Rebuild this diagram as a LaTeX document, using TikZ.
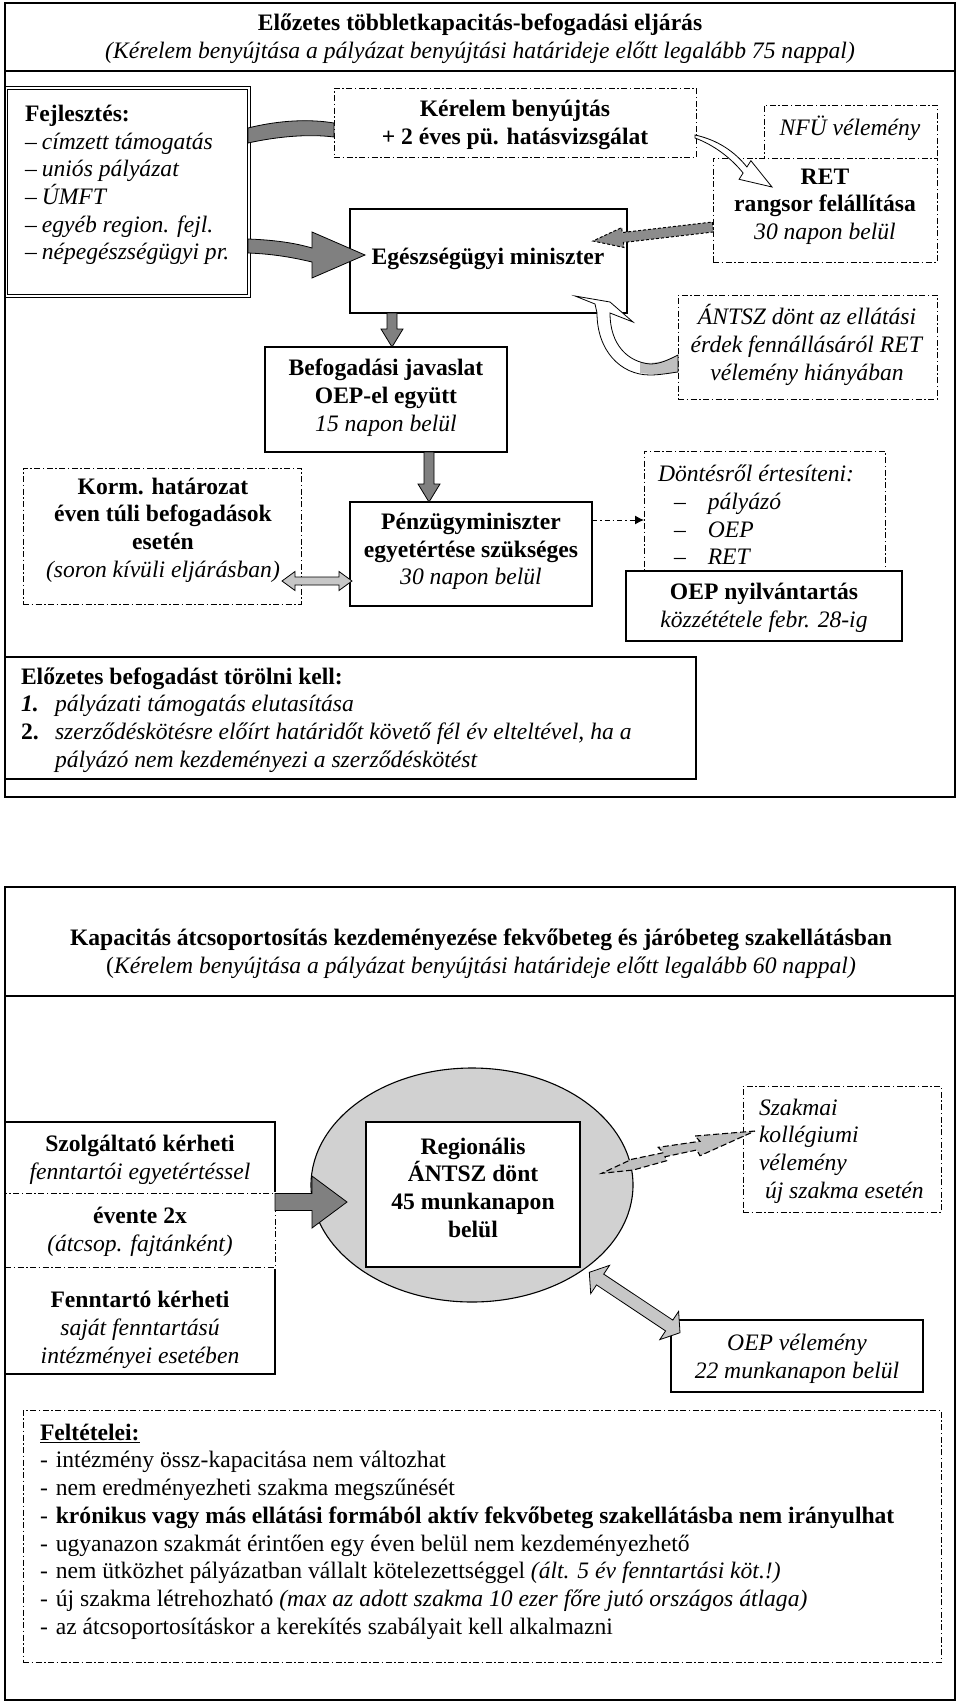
\documentclass[tikz,border=0pt]{standalone}
\usepackage{fontspec}
\setmainfont{Liberation Serif}
\usetikzlibrary{calc,shapes.geometric,arrows.meta}
\newcommand\blkarrow[6]{%
  \coordinate (ba-c) at ($(#3)!#6!(#2)$);
  \path[#1] ($(#2)!#4!90:(#3)$) -- ($(ba-c)!#4!90:(#3)$) -- ($(ba-c)!#5!90:(#3)$) -- (#3) -- ($(ba-c)!#5!-90:(#3)$) -- ($(ba-c)!#4!-90:(#3)$) -- ($(#2)!#4!-90:(#3)$) -- cycle;}
\newcommand\blkdarrow[6]{%
  \coordinate (bd-a) at ($(#2)!#6!(#3)$);
  \coordinate (bd-b) at ($(#3)!#6!(#2)$);
  \path[#1] (#2) -- ($(bd-a)!#5!90:(#3)$) -- ($(bd-a)!#4!90:(#3)$) -- ($(bd-b)!#4!90:(#3)$) -- ($(bd-b)!#5!90:(#3)$) -- (#3) -- ($(bd-b)!#5!-90:(#3)$) -- ($(bd-b)!#4!-90:(#3)$) -- ($(bd-a)!#4!-90:(#3)$) -- ($(bd-a)!#5!-90:(#3)$) -- cycle;}
\begin{document}
\begin{tikzpicture}[x=1pt,y=-1pt,
  every node/.style={font=\fontsize{23.6pt}{27.7pt}\selectfont, inner sep=0pt, outer sep=0pt},
  outerbox/.style={draw, line width=1.6pt, anchor=north west},
  solidbox/.style={draw, line width=1.1pt, fill=white, anchor=north west},
  ddbox/.style={draw, line width=1pt, dash pattern=on 6pt off 2.5pt on 1.5pt off 2.5pt, fill=white, anchor=north west},
  txt/.style={align=center},
  ltxt/.style={align=left, anchor=west},
  darkarr/.style={draw, line width=0.8pt, fill=black!50},
  lightarr/.style={draw, line width=0.8pt, fill=black!22},
  dotarr/.style={draw, line width=1pt, dash pattern=on 3pt off 2pt, fill=black!45},
  whitearr/.style={draw, line width=0.8pt, fill=white},
  boltarr/.style={draw, line width=1.1pt, dash pattern=on 6pt off 3pt, fill=black!25}
]
\useasboundingbox (0,0) rectangle (960,1702);
\fill[white] (0,0) rectangle (960,1702);

% ================= TOP PART =================
\node[solidbox, double, double distance=2pt, line width=0.9pt, minimum width=243pt, minimum height=208pt] (fejl) at (6,88) {};
\node[ddbox, minimum width=362pt, minimum height=69pt] (kerelem) at (334,88) {};
\node[solidbox, minimum width=277pt, minimum height=104pt] (eum) at (350,209) {};
\node[ddbox, minimum width=173pt, minimum height=53pt] (nfu) at (764,105) {};
\node[ddbox, minimum width=224pt, minimum height=104pt] (ret) at (713,158) {};
\node[ddbox, minimum width=259pt, minimum height=104pt] (antsz) at (678,295) {};
\node[solidbox, minimum width=242pt, minimum height=105pt] (befog) at (265,347) {};
\node[ddbox, minimum width=278pt, minimum height=136pt] (korm) at (23,468) {};
\node[solidbox, minimum width=242pt, minimum height=104pt] (penz) at (350,502) {};
\node[ddbox, minimum width=241pt, minimum height=121pt] (dont) at (644,451) {};
\node[solidbox, minimum width=276pt, minimum height=70pt] (oepny) at (626,571) {};
\node[solidbox, minimum width=691pt, minimum height=122pt] (torol) at (5,657) {};

% arrows (top)
\draw[darkarr] (248,128) .. controls (280,120) and (310,119) .. (334,123) -- (334,137) .. controls (310,134) and (280,136) .. (248,143) -- cycle;
\draw[darkarr] (248,239) .. controls (275,240) and (295,243) .. (312,248) -- (312,232) -- (365,255) -- (312,278) -- (312,262) .. controls (295,258) and (275,254) .. (248,253) -- cycle;
\draw[whitearr] (695,135) .. controls (718,140) and (735,152) .. (746.9,167) -- (750.9,160.7) -- (772,187) -- (739.1,179.3) -- (743.1,173) .. controls (731,158) and (714,145) .. (695,138) -- cycle;
\coordinate (g1s) at (713,227);
\coordinate (g1e) at (593,241);
\blkarrow{dotarr}{g1s}{g1e}{5pt}{10pt}{30pt}
% curly arrow from ANTSZ
\fill[white] (575,296) -- (595,304) -- (597,313) .. controls (597,350) and (620,375) .. (650,375) .. controls (660,375) and (670,373) .. (678,372) -- (678,355) .. controls (668,360) and (660,364) .. (650,364) .. controls (628,362) and (610,345) .. (610,313) -- (633,322) -- (610,302) -- cycle;
\fill[black!25] (640,373) .. controls (655,375) and (668,374) .. (678,372) -- (678,355) .. controls (668,360) and (655,365) .. (640,362) -- cycle;
\draw[line width=0.8pt] (575,296) -- (595,304) -- (597,313) .. controls (597,350) and (620,375) .. (650,375) .. controls (660,375) and (670,373) .. (678,372) -- (678,355) .. controls (668,360) and (660,364) .. (650,364) .. controls (628,362) and (610,345) .. (610,313) -- (633,322) -- (610,302) -- cycle;
\coordinate (d1s) at (392,313);
\coordinate (d1e) at (392,347);
\blkarrow{darkarr}{d1s}{d1e}{5pt}{11pt}{18pt}
\coordinate (d2s) at (429,452);
\coordinate (d2e) at (429,502);
\blkarrow{darkarr}{d2s}{d2e}{5pt}{11pt}{18pt}
\coordinate (k1) at (282,581);
\coordinate (k2) at (352,581);
\blkdarrow{lightarr}{k1}{k2}{4pt}{9.5pt}{13pt}
\coordinate (p1) at (592,520);
\coordinate (p2) at (644,520);
\draw[line width=1pt, dash pattern=on 5pt off 3pt on 1.5pt off 3pt, -{Latex[length=9pt,width=9pt]}] (p1) -- (p2);

% texts (top)
\node[txt] (t-head1) at (480,39) {\textbf{Előzetes többletkapacitás-befogadási eljárás}\\\textit{(Kérelem benyújtása a pályázat benyújtási határideje előtt legalább 75 nappal)}};
\node[ltxt] (t-fejl) at (25,185) {\textbf{Fejlesztés:}\\
–\hspace{5pt}\textit{címzett támogatás}\\
–\hspace{5pt}\textit{uniós pályázat}\\
–\hspace{5pt}\textit{ÚMFT}\\
–\hspace{5pt}\textit{egyéb region. fejl.}\\
–\hspace{5pt}\textit{népegészségügyi pr.}};
\node[txt] (t-kerelem) at (515,125) {\textbf{Kérelem benyújtás}\\\textbf{+ 2 éves pü. hatásvizsgálat}};
\node[txt] (t-eum) at (488,259) {\textbf{Egészségügyi miniszter}};
\node[txt] (t-nfu) at (850,128) {\textit{NFÜ vélemény}};
\node[txt] (t-ret) at (825,206.5) {\textbf{RET}\\\textbf{rangsor felállítása}\\\textit{30 napon belül}};
\node[txt] (t-antsz) at (807,345) {\textit{ÁNTSZ dönt az ellátási}\\\textit{érdek fennállásáról RET}\\\textit{vélemény hiányában}};
\node[txt] (t-befog) at (386,397.5) {\textbf{Befogadási javaslat}\\\textbf{OEP-el együtt}\\\textit{15 napon belül}};
\node[txt] (t-korm) at (163,530) {\textbf{Korm. határozat}\\\textbf{éven túli befogadások}\\\textbf{esetén}\\\textit{(soron kívüli eljárásban)}};
\node[txt] (t-penz) at (471,551.5) {\textbf{Pénzügyminiszter}\\\textbf{egyetértése szükséges}\\\textit{30 napon belül}};
\node[ltxt] (t-dont) at (658,515) {\textit{Döntésről értesíteni:}\\
\hspace*{16pt}–\hspace{22pt}\textit{pályázó}\\
\hspace*{16pt}–\hspace{22pt}\textit{OEP}\\
\hspace*{16pt}–\hspace{22pt}\textit{RET}};
\node[txt] (t-oepny) at (764,608) {\textbf{OEP nyilvántartás}\\\textit{közzététele febr. 28-ig}};
\node[ltxt] (t-torol) at (21,720) {\textbf{Előzetes befogadást törölni kell:}\\
\makebox[34pt][l]{\textbf{\textit{1.}}}\textit{pályázati támogatás elutasítása}\\
\makebox[34pt][l]{\textbf{2.}}\textit{szerződéskötésre előírt határidőt követő fél év elteltével, ha a}\\
\hspace*{34pt}\textit{pályázó nem kezdeményezi a szerződéskötést}};

% ================= BOTTOM PART =================
\node[ellipse, draw, line width=1.1pt, fill=black!18, minimum width=322pt, minimum height=234pt] (ell) at (472,1185) {};
\node[solidbox, minimum width=214pt, minimum height=145pt] (reg) at (366,1122) {};
\node[solidbox, minimum width=270pt, minimum height=71pt] (szolg) at (5,1122) {};
\node[solidbox, minimum width=270pt, minimum height=107pt] (fennt) at (5,1267) {};
\node[ddbox, preaction={draw=white, solid, line width=3pt}, minimum width=270pt, minimum height=74pt] (evente) at (5,1193) {};
\node[ddbox, minimum width=198pt, minimum height=126pt] (szak) at (743,1086) {};
\node[solidbox, minimum width=252pt, minimum height=72pt] (oepvel) at (671,1320) {};
\node[ddbox, minimum width=918pt, minimum height=252pt] (felt) at (23,1410) {};

% arrows (bottom)
\coordinate (e1s) at (275,1202);
\coordinate (e1e) at (347,1202);
\blkarrow{darkarr}{e1s}{e1e}{8.5pt}{26pt}{35pt}
\draw[boltarr] (755,1131) -- (695,1136) -- (700,1141.3) -- (658.3,1147.3) -- (663.3,1152.7) -- (631.7,1159.3) -- (601.7,1173.3) -- (633.3,1170) -- (666.7,1160.7) -- (665,1156.7) -- (696.7,1150) -- (700,1155.7) -- cycle;
\coordinate (o1) at (589.3,1272.3);
\coordinate (o2) at (680,1332.7);
\blkdarrow{lightarr}{o1}{o2}{6.5pt}{17pt}{13pt}

% texts (bottom)
\node[txt] (t-head2) at (481,953.5) {\textbf{Kapacitás átcsoportosítás kezdeményezése fekvőbeteg és járóbeteg szakellátásban}\\(\textit{Kérelem benyújtása a pályázat benyújtási határideje előtt legalább 60 nappal)}};
\node[txt] (t-reg) at (473,1187.5) {\textbf{Regionális}\\\textbf{ÁNTSZ dönt}\\\textbf{45 munkanapon}\\\textbf{belül}};
\node[txt] (t-szolg) at (140,1160) {\textbf{Szolgáltató kérheti}\\\textit{fenntartói egyetértéssel}};
\node[txt] (t-evente) at (140,1232) {\textbf{évente 2x}\\\textit{(átcsop. fajtánként)}};
\node[txt] (t-fennt) at (140,1330) {\textbf{Fenntartó kérheti}\\\textit{saját fenntartású}\\\textit{intézményei esetében}};
\node[ltxt] (t-szak) at (759,1151) {\textit{Szakmai}\\\textit{kollégiumi}\\\textit{vélemény}\\\hspace*{6pt}\textit{új szakma esetén}};
\node[txt] (t-oepvel) at (797,1359) {\textit{OEP vélemény}\\\textit{22 munkanapon belül}};
\node[ltxt] (t-felt) at (40,1531.5) {\textbf{\underline{Feltételei:}}\\
-\hspace{8pt}intézmény össz-kapacitása nem változhat\\
-\hspace{8pt}nem eredményezheti szakma megszűnését\\
-\hspace{8pt}\textbf{krónikus vagy más ellátási formából aktív fekvőbeteg szakellátásba nem irányulhat}\\
-\hspace{8pt}ugyanazon szakmát érintően egy éven belül nem kezdeményezhető\\
-\hspace{8pt}nem ütközhet pályázatban vállalt kötelezettséggel \textit{(ált. 5 év fenntartási köt.!)}\\
-\hspace{8pt}új szakma létrehozható \textit{(max az adott szakma 10 ezer főre jutó országos átlaga)}\\
-\hspace{8pt}az átcsoportosításkor a kerekítés szabályait kell alkalmazni};

% outer frames
\node[outerbox, minimum width=950pt, minimum height=794pt] (outer1) at (5,3) {};
\node[outerbox, minimum width=950pt, minimum height=68pt] (head1) at (5,3) {};
\node[outerbox, minimum width=950pt, minimum height=813pt] (outer2) at (5,887) {};
\node[outerbox, minimum width=950pt, minimum height=109pt] (head2) at (5,887) {};
\end{tikzpicture}
\end{document}
